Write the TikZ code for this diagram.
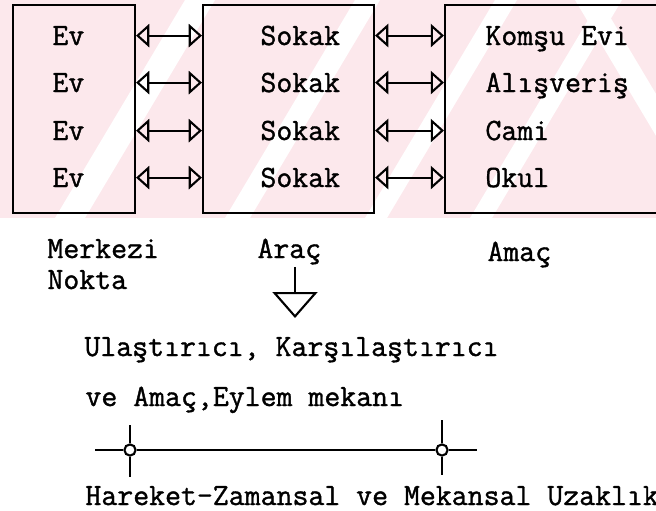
\documentclass[tikz,border=0pt]{standalone}
\usepackage{fontspec}
\usepackage{tikz}
\usetikzlibrary{arrows.meta,positioning,calc}

\setmonofont{Latin Modern Mono}[FakeBold=1.2]
\definecolor{wmpink}{RGB}{252,232,236}

\begin{document}
\begin{tikzpicture}[font=\ttfamily\fontsize{22}{24}\selectfont, line width=1.5pt,
  panel/.style={draw, minimum height=5.2cm, inner sep=0pt},
  item/.style={anchor=base west, inner sep=1pt},
  link/.style={{Triangle[open,length=3.3mm,width=5.8mm]}-{Triangle[open,length=3.3mm,width=5.8mm]}},
  dot/.style={circle, draw, fill=white, minimum size=0.28cm, inner sep=0pt}]
  \useasboundingbox (0,0) rectangle (16.4,-12.75);
  % watermark tint
  \fill[wmpink] (0,0) rectangle (16.4,-5.45);
  \fill[white] (1.375,-5.45) -- (2.125,-5.45) -- (5.375,0) -- (4.625,0) -- cycle;
  \fill[white] (5.625,-5.45) -- (6.25,-5.45) -- (9.5,0) -- (8.875,0) -- cycle;
  \fill[white] (9.125,-5.45) -- (9.675,-5.45) -- (12.925,0) -- (12.375,0) -- cycle;
  \fill[white] (11.75,-5.45) -- (12.3,-5.45) -- (15.55,0) -- (15.0,0) -- cycle;
  \fill[white] (14.375,0) -- (15.0,0) -- (18.25,-5.45) -- (17.625,-5.45) -- cycle;
  % boxes
  \node[panel, minimum width=3.05cm] (merkezbox) at (1.85,-2.725) {};
  \node[panel, minimum width=4.275cm] (aracbox) at (7.2125,-2.725) {};
  \node[panel, minimum width=5.7cm] (amacbox) at (13.975,-2.725) {};
  % box entries
  \node[item] (ev1) at (1.25,-1.125) {Ev};
  \node[item] (ev2) at (1.25,-2.3) {Ev};
  \node[item] (ev3) at (1.25,-3.5) {Ev};
  \node[item] (ev4) at (1.25,-4.675) {Ev};
  \node[item] (sokak1) at (6.45,-1.125) {Sokak};
  \node[item] (sokak2) at (6.45,-2.3) {Sokak};
  \node[item] (sokak3) at (6.45,-3.5) {Sokak};
  \node[item] (sokak4) at (6.45,-4.675) {Sokak};
  \node[item] (hedef1) at (12.075,-1.125) {Komşu Evi};
  \node[item] (hedef2) at (12.075,-2.3) {Alışveriş};
  \node[item] (hedef3) at (12.075,-3.5) {Cami};
  \node[item] (hedef4) at (12.075,-4.675) {Okul};
  % two-way links
  \draw[link] (ev1 -| merkezbox.east) -- (ev1 -| aracbox.west);
  \draw[link] (ev2 -| merkezbox.east) -- (ev2 -| aracbox.west);
  \draw[link] (ev3 -| merkezbox.east) -- (ev3 -| aracbox.west);
  \draw[link] (ev4 -| merkezbox.east) -- (ev4 -| aracbox.west);
  \draw[link] (sokak1 -| aracbox.east) -- (sokak1 -| amacbox.west);
  \draw[link] (sokak2 -| aracbox.east) -- (sokak2 -| amacbox.west);
  \draw[link] (sokak3 -| aracbox.east) -- (sokak3 -| amacbox.west);
  \draw[link] (sokak4 -| aracbox.east) -- (sokak4 -| amacbox.west);
  % captions under the boxes
  \node[item] (merkezi) at (1.125,-6.45) {Merkezi};
  \node[item] (nokta) at (1.125,-7.225) {Nokta};
  \node[item] (arac) at (6.375,-6.45) {Araç};
  \node[item] (amac) at (12.125,-6.525) {Amaç};
  \coordinate (tip) at (7.375,-7.95);
  \draw[-{Triangle[open,length=6.5mm,width=11.25mm]}] (tip |- arac.south) -- (tip);
  % result
  \node[item] (sonuc1) at (2.05,-8.9) {Ulaştırıcı, Karşılaştırıcı};
  \node[item] (sonuc2) at (2.075,-10.15) {ve Amaç,Eylem mekanı};
  % distance line
  \coordinate (lstart) at (2.375,-11.25);
  \coordinate (lend) at (11.925,-11.25);
  \node[dot] (p1) at (3.25,-11.25) {};
  \node[dot] (p2) at (11.05,-11.25) {};
  \draw (lstart) -- (p1) -- (p2) -- (lend);
  \draw (p1.north) -- ++(0,0.45);
  \draw (p1.south) -- ++(0,-0.5);
  \draw (p2.north) -- ++(0,0.575);
  \draw (p2.south) -- ++(0,-0.45);
  \node[item] (uzaklik) at (2.075,-12.625) {Hareket-Zamansal ve Mekansal Uzaklık};
\end{tikzpicture}
\end{document}
